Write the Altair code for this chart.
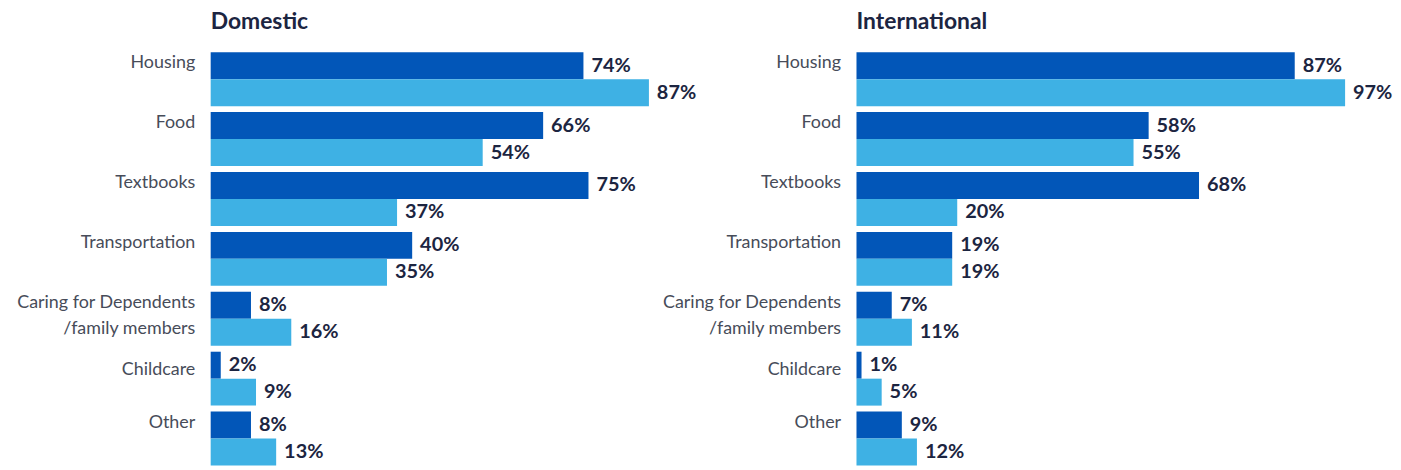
import altair as alt
import pandas as pd

categories = ["Housing", "Food", "Textbooks", "Transportation",
              "Caring for Dependents|/family members", "Childcare", "Other"]
series_names = ["Series 1", "Series 2"]
domestic_dark = [74, 66, 75, 40, 8, 2, 8]
domestic_light = [87, 54, 37, 35, 16, 9, 13]
intl_dark = [87, 58, 68, 19, 7, 1, 9]
intl_light = [97, 55, 20, 19, 11, 5, 12]

DARK = "#0256b8"
LIGHT = "#3eb1e4"
NAVY = "#1c2541"


def make_df(dark, light):
    rows = []
    for c, d, l in zip(categories, dark, light):
        rows.append({"category": c, "series": series_names[0], "value": d})
        rows.append({"category": c, "series": series_names[1], "value": l})
    return pd.DataFrame(rows)


def panel(title, df):
    base = alt.Chart(df).transform_calculate(
        label="datum.value + '%'"
    ).encode(
        y=alt.Y("category:N", sort=categories,
                scale=alt.Scale(paddingInner=0.1, paddingOuter=0.05),
                axis=alt.Axis(title=None, domain=False, ticks=False,
                              labelPadding=16, labelFontSize=18, labelFont="Lato",
                              labelColor="#474c59", labelLimit=400,
                              labelExpr="split(datum.label, '|')",
                              labelLineHeight=26,
                              labelOffset={"condition": {"test": "datum.value == 'Childcare'", "value": -9},
                                           "value": -16})),
        yOffset=alt.YOffset("series:N", sort=series_names,
                            scale=alt.Scale(paddingInner=0, paddingOuter=0)),
        x=alt.X("value:Q", scale=alt.Scale(domain=[0, 100]), axis=None),
    )
    bars = base.mark_bar().encode(
        color=alt.Color("series:N", sort=series_names,
                        scale=alt.Scale(domain=series_names, range=[DARK, LIGHT]),
                        legend=None)
    )
    text = base.mark_text(align="left", baseline="middle", dx=8, font="Lato",
                          fontWeight="bold", fontSize=20, color=NAVY).encode(
        text="label:N"
    )
    return (bars + text).properties(
        width=507, height=422,
        title=alt.TitleParams(title, anchor="start", frame="group", font="Lato",
                              fontSize=23, fontWeight="bold", color=NAVY, offset=15),
    )


left = panel("Domestic", make_df(domestic_dark, domestic_light))
right = panel("International", make_df(intl_dark, intl_light))

chart = alt.hconcat(left, right, spacing=143, bounds="flush").configure_view(
    stroke=None
).properties(padding={"left": 8, "top": 2, "right": 0, "bottom": 0})

chart.save("out.html", embed_options={"renderer": "svg", "actions": False})
